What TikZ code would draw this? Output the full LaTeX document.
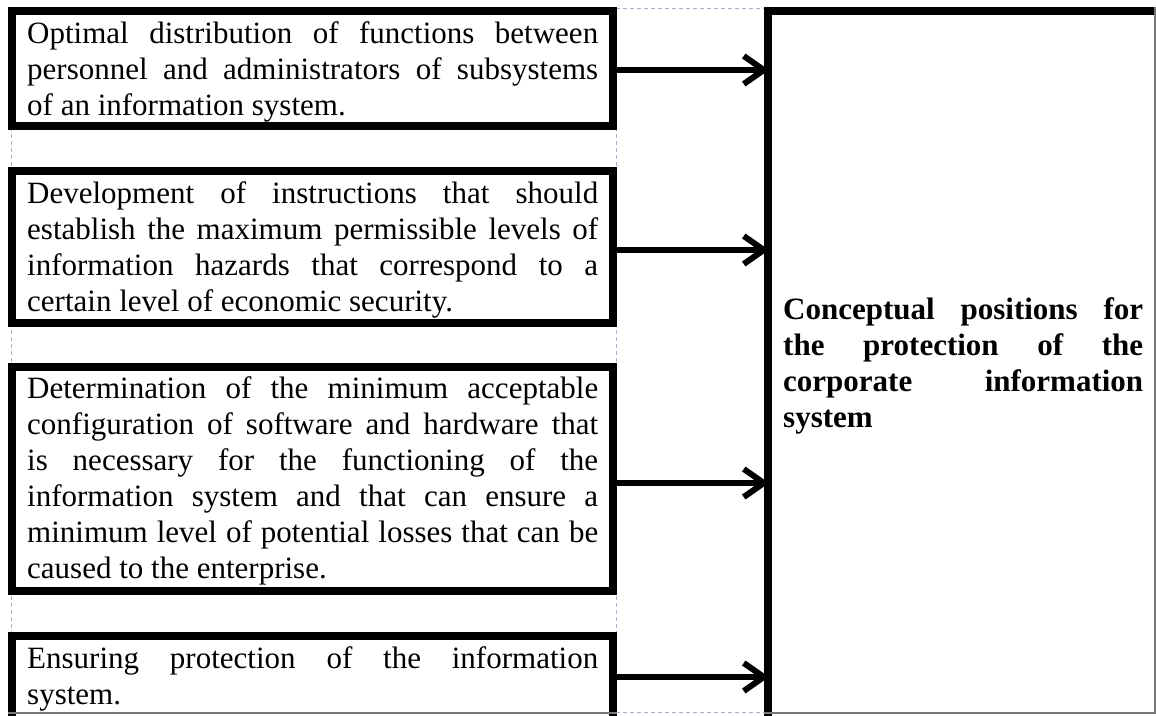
\documentclass[tikz,border=0pt]{standalone}
\usepackage{fontspec}
\setmainfont{Liberation Serif}
\usetikzlibrary{arrows.meta}
\newcommand{\jl}[1]{\makebox[571pt][s]{#1}}
\newcommand{\jb}[1]{\makebox[360pt][s]{#1}}
\begin{document}
\begin{tikzpicture}[x=1pt,y=-1pt,
  box/.style={draw=black,line width=8pt,fill=white,inner sep=0pt,minimum width=601pt},
  txt/.style={anchor=north west,inner sep=0pt,align=left,font=\fontsize{31}{36}\selectfont},
  gridline/.style={draw={rgb,255:red,160;green,180;blue,205},line width=1pt,dash pattern=on 4pt off 3pt},
  edgeline/.style={draw={rgb,255:red,120;green,120;blue,120},line width=1.5pt},
  arr/.style={line width=6pt,-{Straight Barb[length=20pt,width=28pt]}}]
\useasboundingbox (0,0) rectangle (1156,715);
\fill[white] (0,0) rectangle (1156,715);
\begin{scope}
\clip (0,0) rectangle (1156,715);
% table grid (dashed)
\draw[gridline] (11,8) -- (11,713);
\draw[gridline] (616,8) -- (616,713);
\draw[gridline] (616,8) -- (767,8);
\draw[gridline] (616,712) -- (767,712);
% boxes
\node[box,minimum height=115pt] (b1) at (312.5,68.5) {};
\node[box,minimum height=152pt] (b2) at (312.5,247) {};
\node[box,minimum height=224pt] (b3) at (312.5,479) {};
\node[box,minimum height=89pt]  (b4) at (312.5,680.5) {};
\node[box,minimum width=397pt,minimum height=714pt] (big) at (966.5,368) {};
% texts
\node[txt] (t1) at (27,17.8) {\strut\jl{Optimal distribution of functions between}\\
\jl{personnel and administrators of subsystems}\\
of an information system.};
\node[txt] (t2) at (27,177.8) {\strut\jl{Development of instructions that should}\\
\jl{establish the maximum permissible levels of}\\
\jl{information hazards that correspond to a}\\
certain level of economic security.};
\node[txt] (t3) at (27,372.8) {\strut\jl{Determination of the minimum acceptable}\\
\jl{configuration of software and hardware that}\\
\jl{is necessary for the functioning of the}\\
\jl{information system and that can ensure a}\\
\jl{minimum level of potential losses that can be}\\
caused to the enterprise.};
\node[txt] (t4) at (27,642.8) {\strut\jl{Ensuring protection of the information}\\
system.};
\node[txt,font=\fontsize{31}{36}\selectfont\bfseries] (tc) at (783,293.8) {\strut\jb{Conceptual positions for}\\
\jb{the protection of the}\\
\jb{corporate information}\\
system};
% arrows
\draw[arr,shorten >=-5pt] ([yshift=-1.5pt]b1.east) -- ([yshift=-1.5pt]b1.east -| big.west);
\draw[arr,shorten >=-5pt] ([yshift=-3pt]b2.east) -- ([yshift=-3pt]b2.east -| big.west);
\draw[arr,shorten >=-5pt] ([yshift=-4pt]b3.east) -- ([yshift=-4pt]b3.east -| big.west);
\draw[arr,shorten >=-5pt] ([yshift=3.5pt]b4.east) -- ([yshift=3.5pt]b4.east -| big.west);
% cut-off outer edges
\draw[edgeline] (8,713) -- (617,713);
\draw[edgeline] (764,713) -- (1155,713) -- (1155,7);
\end{scope}
\end{tikzpicture}
\end{document}
